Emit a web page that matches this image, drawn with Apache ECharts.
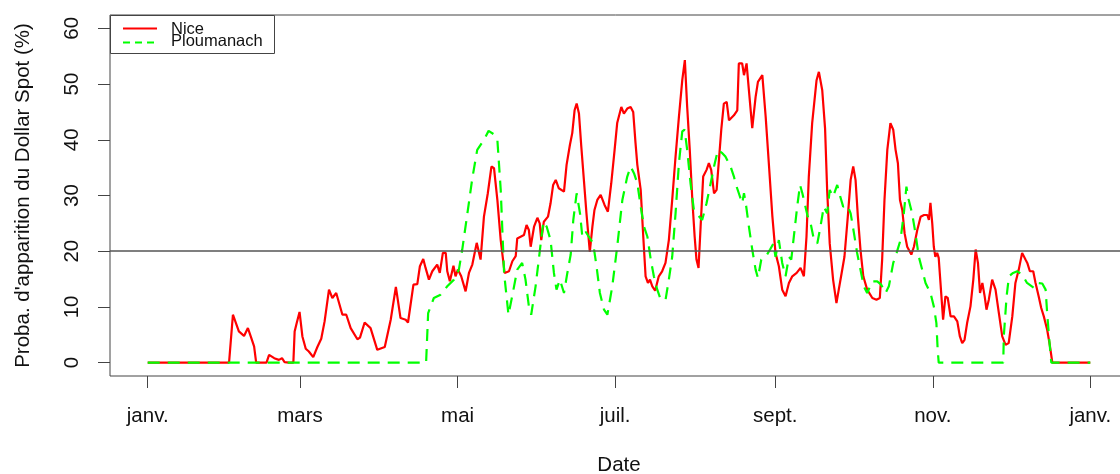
<!DOCTYPE html>
<html>
<head>
<meta charset="utf-8">
<script src="https://cdn.jsdelivr.net/npm/echarts@6/dist/echarts.min.js"></script>
<style>html,body{margin:0;padding:0;background:#fff}#c{width:1120px;height:474px}</style>
</head>
<body>
<div id="c"></div>
<script>
// ---- data (day of year, value %) ----
const niceDays = [0,31.5,33,35.3,37.3,38.8,39.9,41.2,42,46,47,49,50.8,52,53,54.7,56.4,56.9,57.7,58.8,59.9,61.2,62.4,64.1,65.7,67.2,68.5,70.2,71.5,73,75.4,76.9,78.6,81.2,82.2,84,86.3,88.9,91.8,94.1,96.1,97.9,99.9,100.8,102.9,104.4,105.4,106.7,107.6,108.9,110.2,112.1,113.1,114.3,115.4,116,117,118.4,119.2,120.1,121.4,123.1,124.4,125.7,127.4,128.9,130.2,131.7,133.1,134.1,135.4,136.7,138.2,139.9,141.2,142.5,143.1,144.4,145.7,146.7,147.6,148.3,149.6,150.9,151.8,152.4,153.4,155,156,157,158,159.2,161.2,162.2,163.5,164.4,165.3,166.1,167,167.9,168.9,169.9,171.2,172.2,173,174.1,175.4,176.9,178.2,179.5,180.8,181.8,183.4,184.4,185.7,187,188,188.9,189.6,190.2,190.9,191.9,192.8,193.7,194.5,195.4,196.5,197.9,199.2,200.5,201.8,203.1,204.4,205.7,207,208,208.9,209.9,210.9,211.8,212.5,213.3,214.1,215.1,216.4,217.3,218.2,219.3,220.3,221.2,222.1,223.1,224.2,225.1,227,228.3,228.9,230.2,230.9,231.9,232.8,234.1,235.4,236.3,238,239.3,240.6,241.9,243.1,244.4,245.7,247,248.3,249.6,251.3,252.8,254.1,255.1,256,257.3,259,259.9,261.2,262.3,263.1,264.1,265.4,266.7,267.6,268.5,269.8,271.1,272.2,273.2,274.1,275,276,277.1,278.6,280.6,282.2,283.5,284.4,285.3,286.4,287.6,288.7,289.6,290.5,291.3,292.2,293.1,294.1,295.7,296.7,298,299.3,300.6,301.9,302.5,303.1,303.8,304.4,305,305.7,306.3,308,308.9,309.8,310.9,312.2,313.5,314.5,315.4,316.3,317.3,318.6,319.7,320.6,321.5,322.3,323.2,324.1,324.8,325.7,327,328.3,329.6,330.9,332.2,333.4,334.8,336,337.3,338.6,339.9,340.6,341.6,342.9,343.8,345,346,347,348.3,349.3,350.3,365];
const niceVals = [0,0,8.6,5.6,4.8,6.2,4.7,2.9,0,0,1.4,0.8,0.5,0.8,0.1,0,0,5.6,7.1,9.1,4.7,2.5,2.0,1.0,2.8,4.3,7.4,13.1,11.6,12.5,8.6,8.6,6.2,4.2,4.5,7.2,6.2,2.3,2.8,7.7,13.6,8.0,7.7,7.2,14.0,14.1,17.3,18.6,17.0,14.9,16.4,17.6,16.1,19.7,19.7,16.4,14.6,17.4,15.5,16.7,15.5,12.8,16.1,17.6,21.5,18.5,26.2,30.4,35.2,34.9,29.2,22.0,16.1,16.4,18.2,19.1,22.3,22.6,22.9,24.7,23.8,20.8,24.4,26.0,25.0,22.0,25.3,26.2,28.6,31.9,32.8,31.3,30.7,35.5,39.1,41.2,45.3,46.5,44.7,38.8,32.8,26.8,19.9,24.4,27.4,29.2,30.1,28.3,27.1,32.2,38.2,43.0,45.9,44.7,45.6,45.9,45.0,39.4,35.5,35.5,31.0,22.6,15.5,14.3,14.9,13.7,12.9,15.5,16.4,17.9,22.0,29.2,37.0,44.1,50.7,54.3,45.9,38.2,29.2,22.6,18.5,17.0,24.4,33.4,34.6,35.8,34.6,30.4,31.0,36.4,41.8,46.5,46.8,43.5,44.4,45.3,53.7,53.7,51.6,53.7,48.9,42.1,47.7,50.4,51.6,44.1,35.2,26.2,19.7,17.3,13.1,11.9,14.3,15.5,16.1,17.0,15.5,22.6,33.4,43.0,50.7,52.2,48.9,42.0,31.0,21.4,14.9,10.7,13.1,15.5,19.0,26.2,32.8,35.2,32.8,26.2,20.3,15.5,13.1,11.6,11.3,11.6,18.5,29.2,38.2,43.0,41.8,38.2,35.8,29.2,27.4,23.2,20.8,19.4,20.8,23.8,26.2,26.5,26.5,25.6,28.7,25.0,20.8,19.0,19.7,18.8,7.7,11.9,11.6,8.3,8.3,7.4,4.7,3.5,4.1,7.1,10.1,14.9,20.3,17.9,12.5,14.3,11.9,9.5,11.3,14.9,13.1,8.9,4.7,3.2,3.5,8.3,14.3,16.7,19.7,18.5,17.9,16.4,16.4,14.3,11.9,9.8,8.3,5.9,3.2,0,0];

const plouDays = [0,107.8,108.6,110.8,113.4,116,118.6,120.5,121.8,123.8,125.7,127.6,130.2,132,134,135.4,136.7,138,139.7,141.5,143.1,145,146.3,147.6,148.5,150.2,151.9,153.2,154.5,156,157.3,158.3,159.6,161.2,162.5,163.8,164.8,166.1,167.4,168.3,169.6,170.8,172.5,173.8,175.1,176.7,178,179.9,181.8,183.8,185.7,187,188.3,189.6,190.9,192.2,193.5,194.8,196,197.1,198.5,200.5,201.8,203.1,204.4,205.7,207,207.9,208.9,210.2,211.5,213,214.7,216.4,218,219.3,220.8,222.5,223.7,225.7,227,227.6,228.9,230.2,230.9,231.6,232.8,234.1,235.4,236.3,237.6,239.3,241,242.3,243.1,244.4,245.7,247,248.3,249.2,250.2,251.5,252.6,253.5,254.7,255.6,256.7,258,259.3,260.5,261.8,263.1,264.1,265.4,267,268,269.3,270.9,272.2,273.5,274.7,276,277.3,278.6,280.6,282.5,284,285.7,287,288.7,290,291.5,292.8,293.8,294.7,296,297.3,298.6,299.9,301.2,303.1,304.4,305.4,305.9,306.3,331.3,331.5,332.6,333.5,335.1,336.7,338.6,340.5,343.2,344.5,346.4,347.7,348.3,349,349.9,365];
const plouVals = [0,0,8.9,11.6,12.2,13.7,14.9,16.7,20.3,26.8,33.1,38.2,40.0,41.6,41.0,40.0,31.0,16.1,8.6,12.8,16.7,17.9,14.9,10.1,8.6,13.7,20.3,25.3,24.4,22.0,16.1,13.1,14.9,12.5,16.1,19.4,25.6,30.4,26.8,22.6,23.5,22.6,21.4,17.3,12.5,9.5,8.6,13.7,20.8,29.2,33.4,35.2,34.0,32.2,28.0,24.4,22.6,18.5,15.5,13.4,11.5,11.2,14.9,19.0,26.8,35.8,41.5,41.8,38.2,32.2,27.4,26.5,25.6,28.6,32.2,35.2,38.2,37.6,37.0,35.2,33.4,32.2,30.4,28.6,30.4,28.6,24.4,20.3,16.7,15.2,18.5,19.0,20.3,21.4,19.0,22.0,17.9,15.5,19.0,18.5,22.6,28.0,31.9,30.4,28.0,26.2,25.0,22.0,21.4,24.4,28.0,26.8,31.0,29.8,31.9,30.1,28.0,28.3,26.8,23.2,19.7,16.7,13.7,12.5,14.6,14.6,14.0,12.5,13.7,17.9,19.7,22.0,26.8,31.6,29.2,26.8,23.2,19.0,16.7,14.3,12.5,10.1,7.1,2.3,0,0,4.7,11.9,15.5,16.1,16.4,15.8,14.3,13.4,14.3,14.2,13.1,8.9,4.7,0,0];

const monthTicks = [0,59,120,181,243,304,365];
const monthLabels = ['janv.','mars','mai','juil.','sept.','nov.','janv.'];
const yTicks = [0,10,20,30,40,50,60];
const refLevel = 20;
const seriesNames = ['Nice','Ploumanach'];
const seriesColors = ['#ff0000','#00ff00'];

const niceData = niceDays.map((d,i)=>[d,niceVals[i]]);
const plouData = plouDays.map((d,i)=>[d,plouVals[i]]);
const FF = '"Liberation Sans", Arial, Helvetica, sans-serif';
const TXT = '#111';

const chart = echarts.init(document.getElementById('c'), null, {renderer:'canvas'});
chart.setOption({
  animation:false,
  backgroundColor:'#fff',
  textStyle:{fontFamily:FF,color:TXT},
  grid:{left:110, top:15, width:1018, height:361, show:true, borderColor:'#444', borderWidth:1,
        backgroundColor:'transparent', containLabel:false, outerBoundsMode:'none'},
  xAxis:{
    type:'value', min:-14.6, max:379.6,
    name:'Date', nameLocation:'middle', nameGap:79,
    nameTextStyle:{fontSize:20.5, color:TXT, fontFamily:FF},
    axisLine:{show:false, onZero:false},
    splitLine:{show:false},
    axisTick:{show:true, customValues:monthTicks, length:12, lineStyle:{color:'#444', width:1}},
    axisLabel:{customValues:monthTicks, margin:30, fontSize:20.5, color:TXT, fontFamily:FF,
      formatter:(v)=>{const i=monthTicks.indexOf(v);return i>=0?monthLabels[i]:'';}}
  },
  yAxis:{
    type:'value', min:-2.4, max:62.4,
    name:"Proba. d'apparition du Dollar Spot (%)", nameLocation:'middle', nameGap:76, nameRotate:90,
    nameTextStyle:{fontSize:20.5, color:TXT, fontFamily:FF},
    axisLine:{show:false, onZero:false},
    splitLine:{show:false},
    axisTick:{show:true, customValues:yTicks, length:12, lineStyle:{color:'#444', width:1}},
    axisLabel:{customValues:yTicks, rotate:90, margin:27, fontSize:20.5, color:TXT, fontFamily:FF, align:'center', verticalAlign:'bottom'}
  },
  graphic:[
    {type:'rect', z:100, shape:{x:110.5,y:15.5,width:164,height:38}, style:{fill:'#fff', stroke:'#444', lineWidth:1}},
    {type:'line', z:101, shape:{x1:123,y1:28.5,x2:157,y2:28.5}, style:{stroke:seriesColors[0], lineWidth:2}},
    {type:'line', z:101, shape:{x1:123,y1:42.5,x2:157,y2:42.5}, style:{stroke:seriesColors[1], lineWidth:2, lineDash:[7,5]}},
    {type:'text', z:101, x:171, y:29, style:{text:seriesNames[0], font:'16.5px "Liberation Sans", Arial, sans-serif', fill:TXT, verticalAlign:'middle'}},
    {type:'text', z:101, x:171, y:41.5, style:{text:seriesNames[1], font:'16.5px "Liberation Sans", Arial, sans-serif', fill:TXT, verticalAlign:'middle'}}
  ],
  series:[
    {name:seriesNames[0], type:'line', data:niceData, showSymbol:false, symbol:'none', smooth:false,
     lineStyle:{color:seriesColors[0], width:2.2}, itemStyle:{color:seriesColors[0]}, z:2,
     markLine:{silent:true, symbol:'none', label:{show:false}, lineStyle:{color:'#555', type:'solid', width:1.5},
       data:[{yAxis:refLevel}], animation:false}},
    {name:seriesNames[1], type:'line', data:plouData, showSymbol:false, symbol:'none', smooth:false,
     lineStyle:{color:seriesColors[1], width:2.2, type:[12,8]}, itemStyle:{color:seriesColors[1]}, z:3}
  ]
});
</script>
</body>
</html>
